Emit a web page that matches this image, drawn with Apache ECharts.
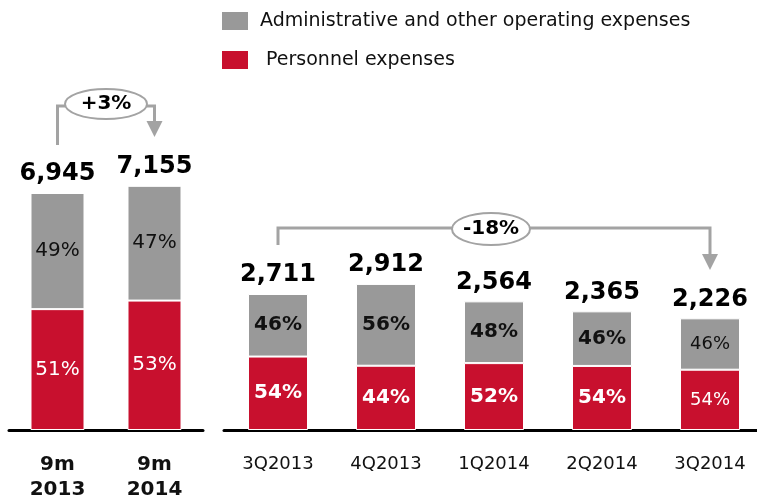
<!DOCTYPE html>
<html>
<head>
<meta charset="utf-8">
<script src="https://cdn.jsdelivr.net/npm/echarts@6/dist/echarts.min.js"></script>
<style>
  html, body { margin: 0; padding: 0; background: #fff; }
  #chart { width: 757px; height: 497px; }
</style>
</head>
<body>
<div id="chart"></div>
<script>
// Year-to-date comparison (left panel)
const periodsYtd = ['9m\n2013', '9m\n2014'];
const totalsYtd = [6945, 7155];
const personnelPctYtd = [51, 53];
const adminPctYtd = [49, 47];
const changeYtd = '+3%';

// Quarterly view (right panel)
const quarters = ['3Q2013', '4Q2013', '1Q2014', '2Q2014', '3Q2014'];
const totalsQ = [2711, 2912, 2564, 2365, 2226];
const personnelPctQ = [54, 44, 52, 54, 54];
const adminPctQ = [46, 56, 48, 46, 46];
const changeQ = '-18%';

const NAME_ADMIN = 'Administrative and other operating expenses';
const NAME_PERS = 'Personnel expenses';

const RED = '#C8102E';
const GREY = '#999999';
const LINE = '#A3A3A3';
const FONT = 'DejaVu Sans';

const fmt = v => v.toLocaleString('en-US');

function segments(totals, pcts) {
  return totals.map((t, i) => t * pcts[i] / 100);
}

// plainSize: font size of the regular-weight labels, boldIdx: bars whose labels are bold
function segData(totals, pcts, boldIdx, plainSize, isRed) {
  return segments(totals, pcts).map((v, i) => {
    const bold = boldIdx.indexOf(i) >= 0;
    return {
      value: v,
      label: {
        fontWeight: bold ? 'bold' : 'normal',
        fontSize: bold ? 20 : plainSize,
        color: isRed ? '#fff' : '#111'
      }
    };
  });
}

function pctLabel(pcts) {
  return {
    show: true,
    position: 'inside',
    fontFamily: FONT,
    formatter: p => pcts[p.dataIndex] + '%'
  };
}

function totalSeries(totals, axisIdx) {
  return {
    type: 'bar',
    stack: 's' + axisIdx,
    xAxisIndex: axisIdx,
    yAxisIndex: axisIdx,
    data: totals.map(() => 0),
    silent: true,
    itemStyle: { color: 'transparent' },
    label: {
      show: true,
      position: 'top',
      distance: 7,
      fontFamily: FONT,
      fontWeight: 'bold',
      fontSize: 24,
      color: '#000',
      formatter: p => fmt(totals[p.dataIndex])
    }
  };
}

const catLabel = {
  fontFamily: FONT,
  fontSize: 18,
  color: '#111',
  lineHeight: 25,
  margin: 22
};

const segBorder = { borderColor: '#fff', borderWidth: 1 };

const chart = echarts.init(document.getElementById('chart'), null, { renderer: 'canvas' });

chart.setOption({
  animation: false,
  backgroundColor: '#fff',
  legend: {
    data: [NAME_ADMIN, NAME_PERS],
    orient: 'vertical',
    left: 220,
    top: 10,
    padding: 0,
    itemWidth: 28,
    itemHeight: 20,
    itemGap: 17,
    icon: 'rect',
    selectedMode: false,
    formatter: n => (n === NAME_PERS ? ' ' + n : n),
    textStyle: { fontFamily: FONT, fontSize: 19, color: '#111', padding: [0, 0, 0, 6] }
  },
  grid: [
    { left: 9, width: 194, bottom: 67, height: 273, outerBoundsMode: 'none', containLabel: false },
    { left: 224, width: 540, bottom: 67, height: 301, outerBoundsMode: 'none', containLabel: false }
  ],
  xAxis: [
    {
      type: 'category', gridIndex: 0, data: periodsYtd,
      axisLine: { lineStyle: { color: '#000', width: 3 } },
      axisTick: { show: false },
      axisLabel: Object.assign({}, catLabel, { fontWeight: 'bold', fontSize: 20 })
    },
    {
      type: 'category', gridIndex: 1, data: quarters,
      axisLine: { lineStyle: { color: '#000', width: 3 } },
      axisTick: { show: false },
      axisLabel: catLabel
    }
  ],
  yAxis: [
    { type: 'value', gridIndex: 0, min: 0, max: 8000, show: false, splitLine: { show: false } },
    { type: 'value', gridIndex: 1, min: 0, max: 6000, show: false, splitLine: { show: false } }
  ],
  series: [
    {
      name: NAME_PERS, type: 'bar', stack: 's0', xAxisIndex: 0, yAxisIndex: 0,
      barWidth: 54, itemStyle: Object.assign({ color: RED }, segBorder),
      label: pctLabel(personnelPctYtd),
      data: segData(totalsYtd, personnelPctYtd, [], 20, true)
    },
    {
      name: NAME_ADMIN, type: 'bar', stack: 's0', xAxisIndex: 0, yAxisIndex: 0,
      barWidth: 54, itemStyle: Object.assign({ color: GREY }, segBorder),
      label: pctLabel(adminPctYtd),
      data: segData(totalsYtd, adminPctYtd, [], 20, false)
    },
    totalSeries(totalsYtd, 0),
    {
      name: NAME_PERS, type: 'bar', stack: 's1', xAxisIndex: 1, yAxisIndex: 1,
      barWidth: 60, itemStyle: Object.assign({ color: RED }, segBorder),
      label: pctLabel(personnelPctQ),
      data: segData(totalsQ, personnelPctQ, [0, 1, 2, 3], 18, true)
    },
    {
      name: NAME_ADMIN, type: 'bar', stack: 's1', xAxisIndex: 1, yAxisIndex: 1,
      barWidth: 60, itemStyle: Object.assign({ color: GREY }, segBorder),
      label: pctLabel(adminPctQ),
      data: segData(totalsQ, adminPctQ, [0, 1, 2, 3], 18, false)
    },
    totalSeries(totalsQ, 1)
  ]
});

// Change brackets: a grey connector from one bar to another, with the
// growth rate in an ellipse and an arrow head pointing at the later bar.
function bracket(x1, x2, yLine, yStart, yTip, cx, cy, rx, ry, text) {
  const stroke = { stroke: LINE, lineWidth: 3 };
  return [
    { type: 'polyline', shape: { points: [[x1, yStart], [x1, yLine], [cx - rx, yLine]] }, style: Object.assign({ fill: null }, stroke) },
    { type: 'polyline', shape: { points: [[cx + rx, yLine], [x2, yLine], [x2, yTip - 14]] }, style: Object.assign({ fill: null }, stroke) },
    { type: 'polygon', shape: { points: [[x2 - 8, yTip - 16], [x2 + 8, yTip - 16], [x2, yTip]] }, style: { fill: LINE } },
    { type: 'ellipse', shape: { cx: cx, cy: cy, rx: rx, ry: ry }, style: { fill: '#fff', stroke: LINE, lineWidth: 2 } },
    {
      type: 'text', x: cx, y: cy,
      style: { text: text, fill: '#000', font: 'bold 20px "' + FONT + '"', align: 'center', verticalAlign: 'middle' }
    }
  ];
}

const xa = chart.convertToPixel({ xAxisIndex: 0 }, periodsYtd[0]);
const xb = chart.convertToPixel({ xAxisIndex: 0 }, periodsYtd[1]);
const xc = chart.convertToPixel({ xAxisIndex: 1 }, quarters[0]);
const xd = chart.convertToPixel({ xAxisIndex: 1 }, quarters[quarters.length - 1]);

chart.setOption({
  graphic: [].concat(
    bracket(xa, xb, 106, 145, 137, (xa + xb) / 2, 104, 41, 15, changeYtd),
    bracket(xc, xd, 228, 245, 270, 491, 229, 39, 16, changeQ)
  )
});
</script>
</body>
</html>
